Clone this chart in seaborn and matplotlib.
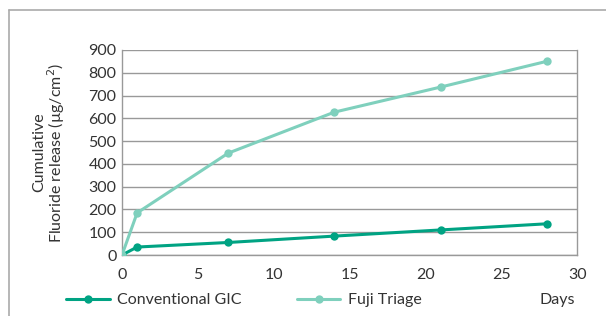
import pandas as pd
import seaborn as sns
import matplotlib.pyplot as plt
from matplotlib.lines import Line2D

# data
days = [0, 1, 7, 14, 21, 28]
conventional_gic = [0, 35, 55, 83, 110, 137]
fuji_triage = [0, 185, 447, 627, 737, 850]

series_names = ["Conventional GIC", "Fuji Triage"]
colors = ["#00A383", "#7FD0BD"]

data = pd.DataFrame({
    "day": days * 2,
    "value": conventional_gic + fuji_triage,
    "series": [series_names[0]] * len(days) + [series_names[1]] * len(days),
})

sns.set_style("white")
plt.rcParams["font.family"] = ["Lato", "DejaVu Sans"]
fs = 11.5

fig = plt.figure(figsize=(6.06, 3.16), dpi=100)
ax = fig.add_axes([0.2013, 0.193, 0.751, 0.649])

sns.lineplot(
    data=data,
    x="day",
    y="value",
    hue="series",
    palette=colors,
    marker="o",
    markersize=6,
    markeredgewidth=0,
    linewidth=2.2,
    legend=False,
    ax=ax,
    zorder=3,
)

ax.set_xlim(0, 30)
ax.set_ylim(0, 900)
ax.set_xticks(range(0, 31, 5))
ax.set_yticks(range(0, 901, 100))
ax.tick_params(axis="both", labelsize=fs, colors="#333333", length=0, pad=4)
ax.tick_params(axis="x", length=5, color="#999999", width=1, direction="out")
ax.yaxis.grid(True, color="#999999", linewidth=1)
ax.xaxis.grid(False)
for side in ["left", "bottom", "right"]:
    ax.spines[side].set_color("#999999")
    ax.spines[side].set_linewidth(1)
ax.spines["top"].set_visible(False)

ax.set_xlabel("")
ax.set_ylabel("Cumulative\nFluoride release (µg/cm$^2$)", fontsize=fs,
              color="#333333", linespacing=0.95, labelpad=15)

# legend at bottom
handles = [Line2D([0], [0], color=c, lw=2.2, marker="o", markersize=6,
                  markeredgewidth=0) for c in colors]
fig.legend(handles, series_names, loc="center left", bbox_to_anchor=(0.086, 0.05),
           ncol=2, frameon=False, fontsize=fs, handlelength=2.7,
           columnspacing=3.5, handletextpad=0.45, labelcolor="#333333")
fig.text(0.949, 0.05, "Days", ha="right", va="center", fontsize=fs, color="#333333")

# outer frame
fig.add_artist(Line2D([0.015, 0.015], [0, 0.968], color="#aaaaaa", lw=1.2,
                      transform=fig.transFigure))
fig.add_artist(Line2D([0.015, 1.0], [0.968, 0.968], color="#aaaaaa", lw=1.2,
                      transform=fig.transFigure))

plt.savefig("out.png", dpi=100)
